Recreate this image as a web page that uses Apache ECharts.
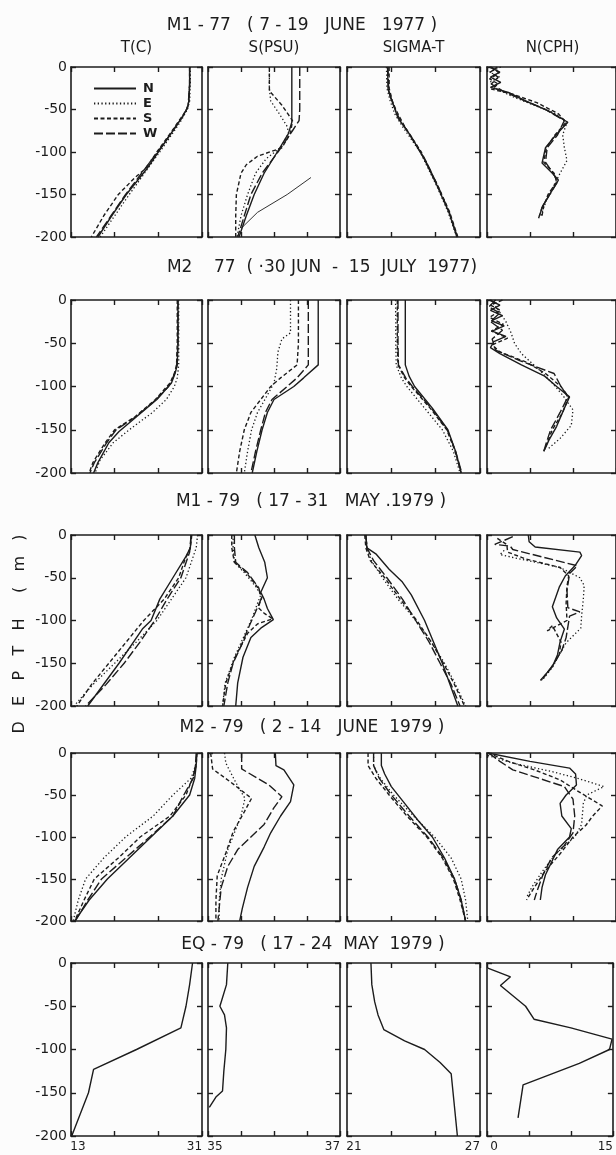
<!DOCTYPE html>
<html><head><meta charset="utf-8">
<script src="https://cdn.jsdelivr.net/npm/echarts@6/dist/echarts.min.js"></script>
<style>html,body{margin:0;padding:0;background:#fcfcfc}#c{width:616px;height:1155px}</style>
</head><body><div id="c"></div><script>
// ---------- DATA (pairs are [depth m, value]) ----------
const seriesNames = ['N','E','S','W'];
const colHeaders = ['T(C)','S(PSU)','SIGMA-T','N(CPH)'];
const xMin = [13,35,21,0];
const xMax = [31,37,27,15];
const xTickValues = [[13,19,25,31],[35,35.5,36,36.5,37],[21,23,25,27],[0,5,10,15]];
const xTickLabels = [['13','31'],['35','37'],['21','27'],['0','15']];
const depthTicks = [0,-50,-100,-150,-200];
const rowTitles = ['M1 - 77   ( 7 - 19   JUNE   1977 )','M2    77  ( ·30 JUN  -  15  JULY  1977)','M1 - 79   ( 17 - 31   MAY .1979 )','M2 - 79   ( 2 - 14   JUNE  1979 )','EQ - 79   ( 17 - 24  MAY  1979 )'];
const depthLabel = 'D   E   P   T   H     (   m   )';

// Row 1: M1-77
const m177_T_N = [[0,29.3],[-20,29.3],[-40,29.2],[-48,29.0],[-60,28.2],[-80,26.6],[-100,25.0],[-120,23.4],[-150,20.6],[-175,18.6],[-200,16.7]];
const m177_T_E = [[0,29.4],[-20,29.4],[-40,29.3],[-50,29.0],[-65,28.0],[-100,25.2],[-125,23.1],[-150,21.0],[-175,19.0],[-200,17.0]];
const m177_T_S = [[0,29.3],[-20,29.3],[-40,29.2],[-50,28.9],[-75,26.9],[-100,24.8],[-120,23.2],[-130,21.8],[-150,19.5],[-175,17.5],[-200,15.8]];
const m177_T_W = [[0,29.3],[-20,29.3],[-45,29.1],[-55,28.6],[-75,27.0],[-100,24.9],[-125,22.7],[-150,20.5],[-175,18.5],[-200,16.5]];
const m177_S_N = [[0,36.27],[-25,36.27],[-50,36.27],[-65,36.27],[-78,36.22],[-100,36.05],[-125,35.85],[-150,35.7],[-175,35.58],[-200,35.47]];
const m177_S_E = [[0,35.93],[-25,35.93],[-40,35.95],[-55,36.08],[-70,36.2],[-78,36.22],[-95,36.1],[-108,35.88],[-125,35.72],[-150,35.6],[-175,35.5],[-200,35.44]];
const m177_S_S = [[0,35.93],[-28,35.93],[-45,36.12],[-63,36.28],[-78,36.25],[-95,36.12],[-105,35.75],[-115,35.58],[-125,35.5],[-150,35.43],[-175,35.42],[-200,35.42]];
const m177_S_W = [[0,36.39],[-50,36.39],[-63,36.38],[-75,36.28],[-90,36.15],[-100,36.06],[-125,35.82],[-150,35.65],[-175,35.55],[-200,35.45]];
const m177_S_extra = [[-130,36.56],[-150,36.2],[-171,35.75],[-190,35.5]];
const m177_G_N = [[0,22.83],[-25,22.85],[-35,22.95],[-45,23.1],[-60,23.3],[-82,23.9],[-109,24.5],[-140,25.07],[-171,25.6],[-200,25.96]];
const m177_G_E = [[0,22.78],[-25,22.8],[-40,22.95],[-55,23.15],[-70,23.5],[-100,24.3],[-140,25.05],[-170,25.55],[-200,25.95]];
const m177_G_S = [[0,22.9],[-25,22.9],[-40,23.05],[-50,23.2],[-70,23.6],[-100,24.35],[-140,25.1],[-170,25.62],[-200,26.0]];
const m177_G_W = [[0,22.85],[-28,22.88],[-45,23.1],[-60,23.35],[-85,23.95],[-110,24.55],[-140,25.1],[-170,25.6],[-200,25.98]];
const m177_N_N = [[0,0.3],[-6,1.5],[-12,0.4],[-18,1.6],[-24,0.4],[-30,2.5],[-40,4.5],[-52,7.2],[-65,9.4],[-80,8.0],[-95,6.8],[-113,6.4],[-125,7.6],[-133,8.3],[-148,7.4],[-163,6.5],[-175,6.1]];
const m177_N_E = [[0,1.6],[-6,0.3],[-12,1.5],[-18,0.3],[-26,1.2],[-35,3.0],[-45,5.5],[-55,8.0],[-65,9.3],[-80,8.8],[-95,9.0],[-110,9.3],[-125,8.5],[-135,8.0],[-150,7.2],[-165,6.6],[-175,6.3]];
const m177_N_S = [[0,0.5],[-7,1.4],[-14,0.3],[-20,1.3],[-26,0.5],[-32,3.0],[-42,5.8],[-55,8.3],[-65,9.2],[-80,7.9],[-95,6.9],[-112,6.6],[-125,7.8],[-135,8.1],[-150,7.1],[-163,6.6],[-175,6.4]];
const m177_N_W = [[0,1.2],[-6,0.4],[-12,1.3],[-20,0.5],[-28,1.8],[-38,4.0],[-50,6.8],[-63,9.0],[-80,8.2],[-95,7.0],[-112,6.8],[-125,7.7],[-135,8.2],[-150,7.3],[-165,6.4],[-178,6.0]];

// Row 2: M2-77
const m277_T_N = [[0,27.7],[-25,27.7],[-50,27.7],[-75,27.6],[-85,27.3],[-96,26.8],[-115,24.8],[-135,22.0],[-152,19.6],[-165,18.2],[-188,16.7],[-200,16.1]];
const m277_T_E = [[0,27.8],[-25,27.8],[-50,27.8],[-75,27.8],[-90,27.6],[-100,27.2],[-115,26.1],[-130,24.2],[-150,21.0],[-165,18.8],[-185,17.0],[-200,16.3]];
const m277_T_S = [[0,27.6],[-25,27.6],[-50,27.6],[-75,27.5],[-85,27.2],[-96,26.6],[-115,24.6],[-135,21.8],[-150,19.0],[-165,17.7],[-188,16.0],[-200,15.5]];
const m277_T_W = [[0,27.7],[-25,27.7],[-50,27.7],[-78,27.5],[-90,27.0],[-100,26.4],[-115,24.7],[-135,21.9],[-150,19.2],[-165,17.9],[-188,16.2],[-200,15.6]];
const m277_S_N = [[0,36.67],[-25,36.67],[-50,36.67],[-75,36.67],[-90,36.45],[-100,36.3],[-115,36.0],[-130,35.9],[-150,35.82],[-175,35.74],[-200,35.67]];
const m277_S_E = [[0,36.25],[-20,36.25],[-38,36.25],[-45,36.12],[-60,36.06],[-80,36.04],[-96,36.0],[-110,35.9],[-130,35.75],[-150,35.66],[-175,35.6],[-200,35.55]];
const m277_S_S = [[0,36.37],[-25,36.37],[-50,36.37],[-75,36.35],[-90,36.1],[-100,35.95],[-115,35.8],[-130,35.65],[-150,35.55],[-175,35.48],[-200,35.43]];
const m277_S_W = [[0,36.52],[-25,36.52],[-50,36.52],[-75,36.52],[-90,36.35],[-100,36.2],[-115,35.97],[-130,35.87],[-150,35.8],[-175,35.72],[-200,35.65]];
const m277_G_N = [[0,23.63],[-25,23.63],[-50,23.63],[-75,23.63],[-88,23.8],[-100,24.05],[-125,24.85],[-150,25.55],[-175,25.9],[-200,26.15]];
const m277_G_E = [[0,23.19],[-25,23.2],[-50,23.2],[-75,23.22],[-90,23.45],[-100,23.7],[-125,24.5],[-150,25.3],[-175,25.8],[-200,26.1]];
const m277_G_S = [[0,23.27],[-25,23.27],[-50,23.27],[-75,23.3],[-90,23.6],[-100,23.9],[-125,24.75],[-150,25.5],[-175,25.88],[-200,26.15]];
const m277_G_W = [[0,23.3],[-25,23.3],[-50,23.3],[-75,23.32],[-90,23.65],[-100,23.95],[-125,24.8],[-150,25.52],[-175,25.9],[-200,26.18]];
const m277_N_N = [[0,0.3],[-6,1.5],[-12,0.4],[-18,1.8],[-24,0.5],[-30,2.0],[-36,0.6],[-42,2.2],[-48,0.8],[-55,0.4],[-62,1.5],[-75,4.0],[-88,6.7],[-100,8.1],[-112,9.6],[-125,9.0],[-146,8.1],[-162,7.2],[-173,6.7]];
const m277_N_E = [[0,0.5],[-10,1.2],[-25,2.2],[-38,2.8],[-50,3.2],[-62,4.0],[-80,6.0],[-95,7.5],[-110,8.8],[-127,10.0],[-145,9.8],[-160,8.5],[-173,7.0]];
const m277_N_S = [[0,1.8],[-6,0.4],[-12,1.6],[-20,0.3],[-28,1.9],[-36,0.5],[-44,2.4],[-52,0.6],[-60,1.5],[-72,4.6],[-85,6.8],[-100,8.6],[-112,9.5],[-130,8.8],[-150,7.6],[-165,7.0],[-175,6.6]];
const m277_N_W = [[0,1.0],[-8,0.2],[-15,1.5],[-25,0.4],[-35,1.8],[-45,0.6],[-58,1.0],[-70,3.8],[-85,7.8],[-100,8.6],[-112,9.4],[-130,8.5],[-150,7.4],[-165,6.9],[-175,6.6]];

// Row 3: M1-79
const m179_T_N = [[0,29.5],[-15,29.4],[-25,28.8],[-50,27.0],[-75,25.2],[-100,24.0],[-110,22.8],[-150,19.6],[-200,15.3]];
const m179_T_E = [[0,30.4],[-15,30.2],[-30,29.6],[-50,28.8],[-75,26.8],[-100,24.8],[-125,22.0],[-150,19.0],[-175,16.0],[-200,13.4]];
const m179_T_S = [[0,29.6],[-15,29.4],[-30,28.6],[-50,27.8],[-75,25.8],[-100,23.0],[-125,20.6],[-150,18.2],[-175,15.8],[-200,13.8]];
const m179_T_W = [[0,29.5],[-20,29.3],[-50,28.1],[-75,26.2],[-100,24.5],[-125,22.5],[-150,20.3],[-175,17.8],[-200,15.0]];
const m179_S_N = [[0,35.71],[-15,35.77],[-32,35.86],[-50,35.9],[-67,35.8],[-75,35.85],[-86,35.9],[-99,35.99],[-109,35.8],[-120,35.65],[-143,35.53],[-173,35.45],[-200,35.42]];
const m179_S_E = [[0,35.38],[-15,35.38],[-32,35.4],[-44,35.55],[-60,35.72],[-70,35.8],[-80,35.75],[-95,35.68],[-109,35.6],[-143,35.4],[-173,35.26],[-200,35.22]];
const m179_S_S = [[0,35.36],[-15,35.36],[-32,35.4],[-44,35.58],[-60,35.74],[-72,35.82],[-85,35.76],[-92,35.86],[-98,35.98],[-104,35.75],[-115,35.6],[-143,35.41],[-173,35.27],[-200,35.22]];
const m179_S_W = [[0,35.4],[-15,35.4],[-32,35.42],[-44,35.6],[-62,35.77],[-74,35.81],[-90,35.72],[-109,35.61],[-130,35.5],[-150,35.38],[-173,35.3],[-200,35.24]];
const m179_G_N = [[0,21.85],[-15,21.9],[-22,22.3],[-40,22.9],[-55,23.5],[-70,23.9],[-100,24.5],[-150,25.3],[-200,26.0]];
const m179_G_E = [[0,21.85],[-15,21.9],[-30,22.1],[-50,22.6],[-75,23.3],[-100,24.1],[-125,24.8],[-150,25.4],[-175,25.9],[-200,26.35]];
const m179_G_S = [[0,21.8],[-15,21.85],[-30,22.05],[-50,22.7],[-75,23.4],[-100,24.15],[-125,24.8],[-150,25.35],[-175,25.85],[-200,26.3]];
const m179_G_W = [[0,21.85],[-15,21.9],[-30,22.2],[-50,22.8],[-75,23.5],[-100,24.1],[-125,24.7],[-150,25.2],[-175,25.7],[-200,26.1]];
const m179_N_N = [[0,4.8],[-8,4.9],[-14,5.6],[-20,10.8],[-24,11.0],[-35,10.3],[-48,9.1],[-61,8.4],[-84,7.6],[-97,8.1],[-110,9.0],[-125,8.5],[-140,8.2],[-154,7.6],[-170,6.2]];
const m179_N_E = [[-18,2.0],[-23,1.5],[-38,8.5],[-50,10.8],[-59,11.3],[-75,11.2],[-95,11.0],[-109,10.9],[-126,9.2],[-140,8.4],[-155,7.6],[-170,6.4]];
const m179_N_S = [[-4,1.2],[-11,2.3],[-20,2.4],[-28,4.5],[-38,8.5],[-48,9.5],[-60,9.3],[-80,9.2],[-100,9.3],[-112,7.0],[-106,7.6],[-125,8.6],[-140,8.4],[-155,7.5],[-170,6.3]];
const m179_N_W = [[-2,3.0],[-11,0.9],[-13,2.7],[-17,3.0],[-36,10.5],[-45,9.6],[-65,9.3],[-85,9.4],[-90,10.8],[-95,9.6],[-120,9.2],[-135,8.7],[-150,7.8],[-168,6.5]];

// Row 4: M2-79
const m279_T_N = [[0,30.3],[-15,30.2],[-30,30.0],[-50,29.3],[-75,27.0],[-100,24.0],[-125,21.0],[-150,18.0],[-175,15.5],[-200,13.5]];
const m279_T_E = [[0,30.3],[-15,30.1],[-30,29.5],[-50,27.0],[-75,24.3],[-100,20.5],[-125,17.5],[-150,15.0],[-175,14.0],[-200,13.3]];
const m279_T_S = [[0,30.3],[-15,30.2],[-30,29.7],[-50,28.8],[-75,26.6],[-100,22.5],[-125,19.5],[-150,16.2],[-175,14.8],[-200,13.5]];
const m279_T_W = [[0,30.2],[-15,30.1],[-30,29.8],[-50,28.5],[-75,27.0],[-100,23.8],[-125,20.5],[-150,17.2],[-175,15.3],[-200,13.6]];
const m279_S_N = [[0,36.02],[-15,36.03],[-20,36.15],[-38,36.3],[-58,36.25],[-75,36.1],[-95,35.95],[-112,35.85],[-135,35.7],[-160,35.6],[-185,35.52],[-200,35.48]];
const m279_S_E = [[0,35.25],[-12,35.27],[-35,35.42],[-54,35.56],[-75,35.5],[-95,35.4],[-115,35.3],[-150,35.2],[-175,35.17],[-200,35.17]];
const m279_S_S = [[0,35.04],[-19,35.07],[-35,35.35],[-54,35.66],[-70,35.55],[-94,35.38],[-119,35.27],[-146,35.14],[-175,35.12],[-200,35.12]];
const m279_S_W = [[0,35.51],[-19,35.51],[-30,35.75],[-38,35.92],[-52,36.12],[-65,36.0],[-85,35.85],[-100,35.65],[-115,35.45],[-135,35.3],[-160,35.2],[-200,35.15]];
const m279_G_N = [[0,22.55],[-15,22.55],[-25,22.7],[-40,23.0],[-60,23.6],[-80,24.2],[-100,24.85],[-125,25.4],[-150,25.85],[-175,26.15],[-200,26.35]];
const m279_G_E = [[0,22.2],[-15,22.2],[-30,22.5],[-50,23.1],[-75,24.0],[-100,24.95],[-125,25.7],[-150,26.15],[-175,26.35],[-200,26.45]];
const m279_G_S = [[0,21.95],[-15,21.95],[-30,22.3],[-50,22.9],[-75,23.7],[-100,24.6],[-125,25.3],[-150,25.8],[-175,26.1],[-200,26.35]];
const m279_G_W = [[0,22.2],[-15,22.2],[-30,22.45],[-50,23.0],[-75,23.8],[-100,24.65],[-125,25.35],[-150,25.85],[-175,26.15],[-200,26.35]];
const m279_N_N = [[0,0.1],[-10,5.0],[-18,9.6],[-25,10.3],[-38,10.4],[-50,9.2],[-60,8.5],[-75,8.7],[-90,9.8],[-100,9.6],[-115,8.2],[-130,7.5],[-145,6.8],[-160,6.4],[-175,6.2]];
const m279_N_E = [[-3,0.1],[-12,3.0],[-22,7.5],[-30,10.5],[-40,13.6],[-50,11.6],[-60,11.2],[-85,11.0],[-100,10.2],[-120,8.0],[-140,6.5],[-160,5.2],[-172,4.6]];
const m279_N_S = [[0,0.1],[-10,2.5],[-20,5.5],[-32,8.5],[-45,10.5],[-63,13.4],[-75,12.3],[-86,11.5],[-100,10.0],[-120,8.5],[-140,6.8],[-160,5.5],[-175,4.6]];
const m279_N_W = [[0,0.2],[-10,1.5],[-20,3.0],[-30,6.0],[-40,9.0],[-55,10.0],[-75,10.2],[-95,10.0],[-110,9.0],[-125,7.5],[-145,6.5],[-165,5.8],[-175,5.5]];

// Row 5: EQ-79 (single profile)
const eq79_T = [[0,29.7],[-25,29.3],[-50,28.8],[-75,28.1],[-100,22.0],[-123,16.1],[-150,15.4],[-200,13.1]];
const eq79_S = [[0,35.3],[-25,35.28],[-45,35.2],[-50,35.18],[-60,35.25],[-75,35.28],[-100,35.27],[-125,35.24],[-148,35.22],[-155,35.12],[-167,35.02]];
const eq79_G = [[0,22.08],[-25,22.12],[-45,22.25],[-60,22.4],[-77,22.66],[-90,23.6],[-100,24.5],[-115,25.2],[-128,25.7],[-200,25.98]];
const eq79_N = [[-6,0.1],[-16,2.8],[-26,1.6],[-50,4.6],[-65,5.6],[-75,10.0],[-88,14.9],[-100,14.6],[-116,11.0],[-141,4.3],[-179,3.7]];

const panels = [
  [[m177_T_N,m177_T_E,m177_T_S,m177_T_W],[m177_S_N,m177_S_E,m177_S_S,m177_S_W],[m177_G_N,m177_G_E,m177_G_S,m177_G_W],[m177_N_N,m177_N_E,m177_N_S,m177_N_W]],
  [[m277_T_N,m277_T_E,m277_T_S,m277_T_W],[m277_S_N,m277_S_E,m277_S_S,m277_S_W],[m277_G_N,m277_G_E,m277_G_S,m277_G_W],[m277_N_N,m277_N_E,m277_N_S,m277_N_W]],
  [[m179_T_N,m179_T_E,m179_T_S,m179_T_W],[m179_S_N,m179_S_E,m179_S_S,m179_S_W],[m179_G_N,m179_G_E,m179_G_S,m179_G_W],[m179_N_N,m179_N_E,m179_N_S,m179_N_W]],
  [[m279_T_N,m279_T_E,m279_T_S,m279_T_W],[m279_S_N,m279_S_E,m279_S_S,m279_S_W],[m279_G_N,m279_G_E,m279_G_S,m279_G_W],[m279_N_N,m279_N_E,m279_N_S,m279_N_W]],
  [[eq79_T],[eq79_S],[eq79_G],[eq79_N]]
];

// ---------- LAYOUT ----------
const FONT = '"DejaVu Sans", "Liberation Sans", sans-serif';
const INK = '#1c1c1c';
const gridTops = [67, 300, 535, 753, 963];
const gridHeights = [170, 173, 171, 168, 173];
const colLefts = [71, 208, 347, 487];
const colWidths = [131, 132, 133, 131];
const lineTypes = ['solid',[1.3,2.4],[4,2.5],[9,3]];
const lineWidths = [1.4,1.3,1.4,1.4];
const titleY = [26, 268, 502, 728, 945];
const titleX = [302, 322, 311, 312, 313];

const axisLS = {color: INK, width: 1.6};
const tickLS = {color: INK, width: 1.4};
const grids=[], xAxes=[], yAxes=[], series=[];
for (let r=0;r<5;r++){
  for (let c=0;c<4;c++){
    const g = r*4+c;
    grids.push({left:colLefts[c], top:gridTops[r], width:colWidths[c], height:gridHeights[r], containLabel:false});
    const labs = xTickLabels[c];
    xAxes.push({gridIndex:g, type:'value', position:'bottom', min:xMin[c], max:xMax[c],
      axisLine:{show:true,onZero:false,lineStyle:axisLS},
      axisTick:{show:true,inside:true,length:5,lineStyle:tickLS,customValues:xTickValues[c]},
      splitLine:{show:false},
      axisLabel:{show:r===4, customValues:[xMin[c],xMax[c]], margin:5, color:INK, fontFamily:FONT, fontSize:12,
        formatter:(v)=> v===xMin[c] ? '{l|'+labs[0]+'}' : '{r|'+labs[1]+'}',
        rich:{l:{padding:[0,0,0,14],fontSize:12,color:INK,fontFamily:FONT}, r:{padding:[0,15,0,0],fontSize:12,color:INK,fontFamily:FONT}}}
    });
    xAxes.push({gridIndex:g, type:'value', position:'top', min:xMin[c], max:xMax[c],
      axisLine:{show:true,onZero:false,lineStyle:axisLS},
      axisTick:{show:true,inside:true,length:5,lineStyle:tickLS,customValues:xTickValues[c]},
      splitLine:{show:false}, axisLabel:{show:false}});
    yAxes.push({gridIndex:g, type:'value', position:'left', min:-200, max:0, interval:50,
      axisLine:{show:true,onZero:false,lineStyle:axisLS},
      axisTick:{show:true,inside:true,length:5,lineStyle:tickLS},
      splitLine:{show:false},
      axisLabel:{show:c===0, margin:4, color:INK, fontFamily:FONT, fontSize:14}});
    yAxes.push({gridIndex:g, type:'value', position:'right', min:-200, max:0, interval:50,
      axisLine:{show:true,onZero:false,lineStyle:axisLS},
      axisTick:{show:true,inside:true,length:5,lineStyle:tickLS},
      splitLine:{show:false}, axisLabel:{show:false}});
    panels[r][c].forEach((prof, k)=>{
      series.push({type:'line', name: r===4 ? 'EQ' : seriesNames[k], xAxisIndex:2*g, yAxisIndex:2*g,
        data: prof.map(p=>[p[1],p[0]]), symbol:'none', showSymbol:false, smooth:false, silent:true,
        itemStyle:{color:INK},
        lineStyle:{color:INK, width: r===4 ? 1.4 : lineWidths[k], type: r===4 ? 'solid' : lineTypes[k]}, animation:false});
    });
  }
}
series.push({type:'line', name:'extra', xAxisIndex:2, yAxisIndex:2, data:m177_S_extra.map(p=>[p[1],p[0]]),
  symbol:'none', silent:true, lineStyle:{color:INK,width:0.9,type:'solid'}, animation:false});

const graphics = [];
rowTitles.forEach((t,i)=>graphics.push({type:'text', x:titleX[i], y:titleY[i],
  style:{text:t, fill:INK, font:'17px '+FONT, align:'center', verticalAlign:'middle', textAlign:'center', textVerticalAlign:'middle'}}));
colHeaders.forEach((t,c)=>graphics.push({type:'text', x:colLefts[c]+colWidths[c]/2, y:48,
  style:{text:t, fill:INK, font:'15px '+FONT, align:'center', verticalAlign:'middle', textAlign:'center', textVerticalAlign:'middle'}}));
graphics.push({type:'text', x:20, y:634, rotation:Math.PI/2,
  style:{text:depthLabel, fill:INK, font:'16px '+FONT, align:'center', verticalAlign:'middle', textAlign:'center', textVerticalAlign:'middle'}});

const chart = echarts.init(document.getElementById('c'));
chart.setOption({
  backgroundColor:'#fcfcfc',
  animation:false,
  grid:grids, xAxis:xAxes, yAxis:yAxes, series:series,
  legend:{data:seriesNames, orient:'vertical', left:88, top:77, itemWidth:42, itemHeight:10, itemGap:2,
    itemStyle:{color:'rgba(0,0,0,0)', borderWidth:0, opacity:0},
    textStyle:{color:INK, fontFamily:FONT, fontSize:13, fontWeight:'bold', padding:[0,0,0,2]}, selectedMode:false},
  graphic:graphics
});
</script></body></html>
